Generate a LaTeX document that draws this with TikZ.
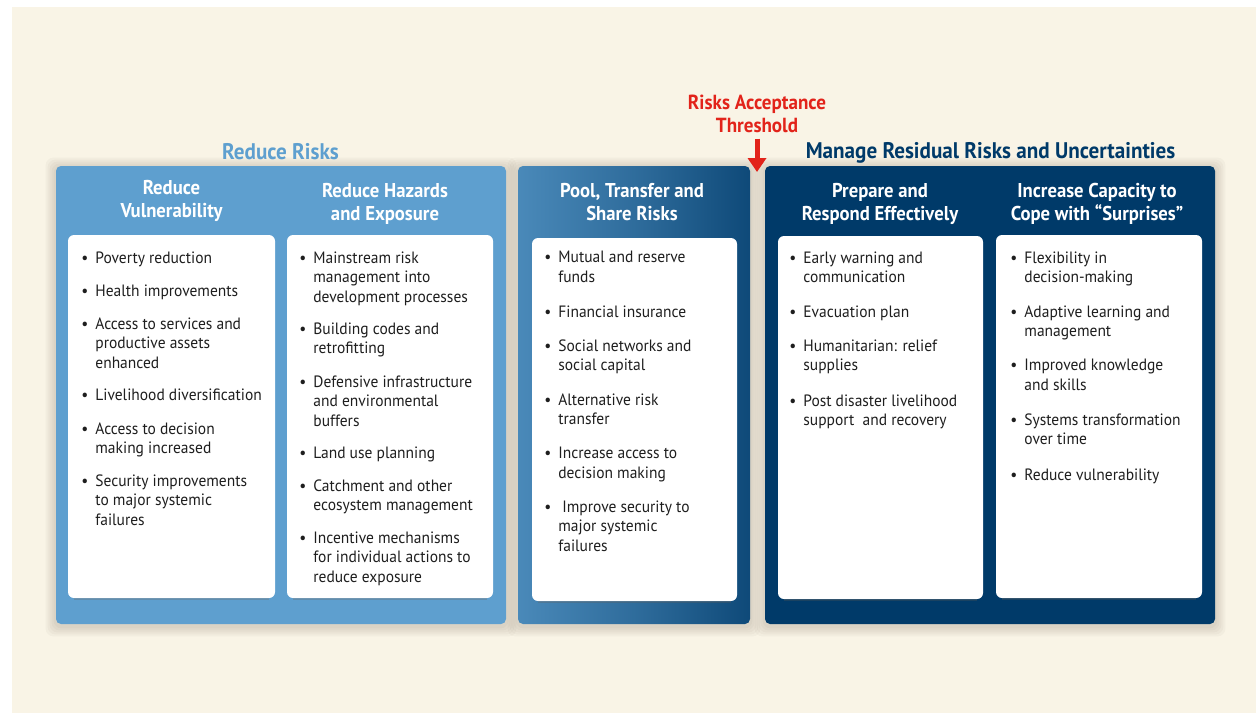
\documentclass[tikz,border=0pt]{standalone}
\usepackage{fontspec}
\setmainfont[FakeStretch=0.945]{PT Sans}
\newfontfamily\hdfont[FakeStretch=0.935]{PT Sans}
\usetikzlibrary{arrows.meta,backgrounds}
\definecolor{bg}{HTML}{F9F4E6}
\definecolor{lblue}{HTML}{5E9FCF}
\definecolor{navy}{HTML}{003A69}
\definecolor{rred}{HTML}{E2231A}
\definecolor{txt}{HTML}{1E1E1E}
\definecolor{shd}{HTML}{6B5A4A}
\pgfdeclarehorizontalshading{panelgrad}{100bp}{color(0bp)=(lblue); color(12bp)=(lblue!93!navy); color(50bp)=(lblue!50!navy); color(86bp)=(navy); color(100bp)=(navy)}
\newcommand{\bul}{\llap{\textbullet\hspace{3.5pt}}}
\tikzset{
  panel/.style={rounded corners=2.5pt, inner sep=0, draw=none},
  wbox/.style={fill=white, rounded corners=3pt, inner sep=0, minimum height=181.5pt},
  item/.style={anchor=north west, inner sep=0, align=left, text=txt,
    font=\fontsize{8.2}{9.75}\selectfont},
  hd/.style={anchor=north, inner sep=0, align=center, text=white,
    font=\hdfont\bfseries\fontsize{10}{11.5}\selectfont},
  ttl/.style={anchor=north, inner sep=0, font=\hdfont\bfseries\fontsize{11.3}{12}\selectfont},
  halo/.style={fill=shd, fill opacity=0.045, rounded corners=4pt},
  whalo/.style={fill=shd, fill opacity=0.12, rounded corners=3pt},
  redarrow/.style={draw=rred, line width=2.5pt, -{Triangle[width=9pt,length=7pt]}}
}
\begin{document}
\begin{tikzpicture}[x=0.5pt,y=-0.5pt]
\useasboundingbox (0,0) rectangle (1256,713);

% panels
\node[panel, fill=lblue, minimum width=225pt, minimum height=229pt] (p1) at (281,395) {};
\node[panel, shading=panelgrad, minimum width=116pt, minimum height=229pt] (p2) at (634,395) {};
\node[panel, fill=navy, minimum width=225pt, minimum height=229pt] (p3) at (990,395) {};

% white boxes
\node[wbox, minimum width=103.5pt] (w1) at (171.5,416.5) {};
\node[wbox, minimum width=103pt] (w2) at (390,416.5) {};
\node[wbox, minimum width=102.5pt] (w3) at (634.5,419.5) {};
\node[wbox, minimum width=102.5pt] (w4) at (880.5,417.5) {};
\node[wbox, minimum width=103pt] (w5) at (1099,416.5) {};

\begin{scope}[on background layer]
  \fill[white] (0,0) rectangle (1256,713);
  \fill[bg] (12,7) rectangle (1256,713);
  \foreach \p in {p1,p2,p3}{
    \foreach \d in {2,4,6,8,10}{
      \path[halo] ([shift={(-\d,-\d+2)}]\p.north west) rectangle ([shift={(\d,\d+2)}]\p.south east);
    }
  }
\end{scope}
\foreach \w in {w1,w2,w3,w4,w5}{
  \begin{scope}[on background layer]
  \end{scope}
}
% subtle under-shadow of white boxes (drawn before boxes via background of panels is not possible; draw thin line)
\foreach \w in {w1,w2,w3,w4,w5}{
  \draw[shd, opacity=0.25, line width=0.6pt] ([xshift=3pt,yshift=-0.3pt]\w.south west) -- ([xshift=-3pt,yshift=-0.3pt]\w.south east);
}

% titles
\node[ttl, text=lblue] (t1) at (280.5,143) {Reduce Risks};
\node[ttl, text=navy] (t3) at (990.5,142) {Manage Residual Risks and Uncertainties};
\node[ttl, text=rred, align=center, font=\hdfont\bfseries\fontsize{10.2}{11.5}\selectfont] (thr) at (757,95) {Risks Acceptance\\Threshold};
\coordinate (tip) at (757,172);
\draw[redarrow] ([yshift=-2.5pt]thr.south) -- (tip);

% headers
\node[hd] (h1) at (171.5,180) {Reduce\\Vulnerability};
\node[hd] (h2) at (385,183) {Reduce Hazards\\and Exposure};
\node[hd] (h3) at (632,183) {Pool, Transfer and\\Share Risks};
\node[hd] (h4) at (880,183) {Prepare and\\Respond Effectively};
\node[hd] (h5) at (1097,183) {Increase Capacity to\\Cope with \textquotedblleft Surprises\textquotedblright};

% box 1
\node[item] (a1) at (95,251) {\bul Poverty reduction};
\node[item] (a2) at (95,284) {\bul Health improvements};
\node[item] (a3) at (95,317) {\bul Access to services and\\productive assets\\enhanced};
\node[item] (a4) at (95,388) {\bul Livelihood diversification};
\node[item] (a5) at (95,422) {\bul Access to decision\\making increased};
\node[item] (a6) at (95,474) {\bul Security improvements\\to major systemic\\failures};

% box 2
\node[item] (b1) at (313,251) {\bul Mainstream risk\\management into\\development processes};
\node[item] (b2) at (313,322) {\bul Building codes and\\retrofitting};
\node[item] (b3) at (313,375) {\bul Defensive infrastructure\\and environmental\\buffers};
\node[item] (b4) at (313,446) {\bul Land use planning};
\node[item] (b5) at (313,479) {\bul Catchment and other\\ecosystem management};
\node[item] (b6) at (313,531) {\bul Incentive mechanisms\\for individual actions to\\reduce exposure};

% box 3
\node[item] (c1) at (558,251) {\bul Mutual and reserve\\funds};
\node[item] (c2) at (558,305) {\bul Financial insurance};
\node[item] (c3) at (558,339) {\bul Social networks and\\social capital};
\node[item] (c4) at (558,393) {\bul Alternative risk\\transfer};
\node[item] (c5) at (558,447) {\bul Increase access to\\decision making};
\node[item] (c6) at (558,500) {\bul \hspace{2pt}Improve security to\\major systemic\\failures};

% box 4
\node[item] (d1) at (803,251) {\bul Early warning and\\communication};
\node[item] (d2) at (803,305) {\bul Evacuation plan};
\node[item] (d3) at (803,339) {\bul Humanitarian: relief\\supplies};
\node[item] (d4) at (803,394) {\bul Post disaster livelihood\\support\ \ and recovery};

% box 5
\node[item] (e1) at (1024,251) {\bul Flexibility in\\decision-making};
\node[item] (e2) at (1024,305) {\bul Adaptive learning and\\management};
\node[item] (e3) at (1024,359) {\bul Improved knowledge\\and skills};
\node[item] (e4) at (1024,413) {\bul Systems transformation\\over time};
\node[item] (e5) at (1024,468) {\bul Reduce vulnerability};
\end{tikzpicture}
\end{document}
